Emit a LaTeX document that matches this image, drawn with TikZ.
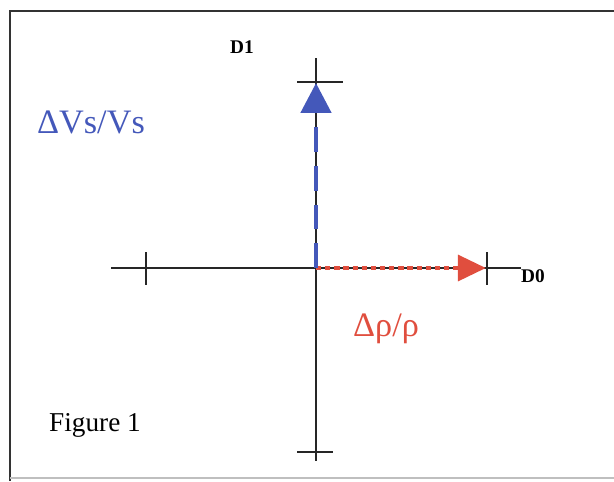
\documentclass[tikz,border=0pt]{standalone}
\usepackage{fontspec}
\setmainfont{Liberation Serif}
\usetikzlibrary{arrows.meta}
\definecolor{vblue}{RGB}{68,88,186}
\definecolor{rred}{RGB}{224,78,62}
\begin{document}
\begin{tikzpicture}[
        x=0.02cm, y=-0.02cm,
        frame/.style={line width=1.2pt, black!80},
        axis/.style={line width=1.2pt, black!85},
        tick/.style={line width=1.2pt, black!85},
        vecV/.style={vblue, line width=2.8pt, dash pattern=on 14pt off 8pt,
                     -{Triangle[length=17pt, width=17pt]}},
        vecR/.style={rred, line width=2.8pt, dash pattern=on 3pt off 2.2pt,
                     -{Triangle[length=16pt, width=14.5pt]}},
        dlab/.style={font=\bfseries\fontsize{11}{13}\selectfont},
        qlab/.style={font=\fontsize{19.5}{23}\selectfont},
        figlab/.style={font=\fontsize{15.5}{18}\selectfont}
    ]
    \useasboundingbox (0,0) rectangle (614,481);
    % Rahmen
    \draw[frame] (10,481) -- (10,11) -- (614,11);
    \draw[black!25, line width=0.6pt] (10,478) -- (614,478);

    % Achsen
    \coordinate (O) at (316,268);
    \coordinate (xL) at (111,268);
    \coordinate (xR) at (521,268);
    \coordinate (yT) at (316,58);
    \coordinate (yB) at (316,461);
    \draw[axis] (xL) -- (xR);
    \draw[axis] (yT) -- (yB);

    % Teilstriche
    \foreach \x in {146,487}
        \draw[tick] (\x,252) -- (\x,285);
    \draw[tick] (297,82) -- (343,82);
    \draw[tick] (297,452) -- (333,452);

    % Vektoren
    \coordinate (Vtip) at (316,83);
    \coordinate (Rtip) at (486,268);
    \draw[vecR] (O) -- (Rtip);
    \draw[vecV] (O) -- (Vtip);

    % Beschriftung
    \node[dlab] (d1) at (242,47) {D1};
    \node[dlab] (d0) at (533,276) {D0};
    \node[qlab, text=vblue] (dv) at (91,122) {ΔVs/Vs};
    \node[qlab, text=rred] (dr) at (386,329) {Δρ/ρ};
    \node[figlab] (fig) at (95,425) {Figure 1};
\end{tikzpicture}
\end{document}
